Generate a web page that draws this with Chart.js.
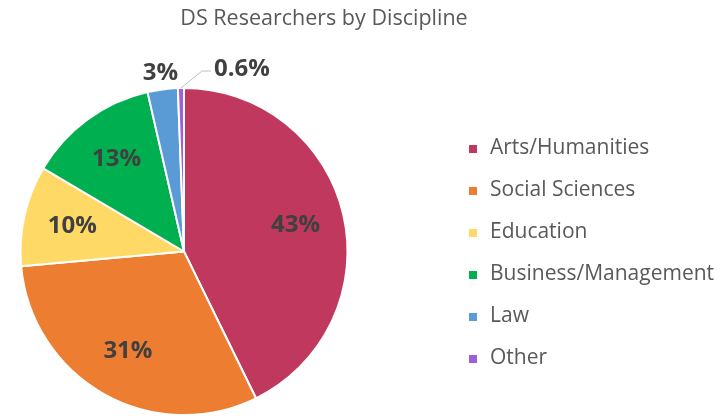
<!DOCTYPE html>
<html>
<head>
<meta charset="utf-8">
<script src="https://cdn.jsdelivr.net/npm/chart.js@4.4.1/dist/chart.umd.min.js"></script>
<style>
  html, body { margin: 0; padding: 0; background: #fff; }
  #wrap { position: relative; width: 721px; height: 418px; font-family: "Open Sans", sans-serif; color: #595959; }
  #pieChart { position: absolute; left: 0; top: 0; }
  #title { position: absolute; left: 124px; width: 400px; top: 2px; text-align: center; font-size: 21.5px; line-height: 30px; white-space: nowrap; }
  #legend { position: absolute; left: 469px; top: 131px; margin: 0; padding: 0; list-style: none; font-size: 21px; }
  #legend li { height: 42px; line-height: 30px; white-space: nowrap; }
  #legend .box { display: inline-block; width: 8px; height: 8px; margin-right: 13px; vertical-align: 1px; }
</style>
</head>
<body>
<div id="wrap">
  <canvas id="pieChart" width="721" height="418"></canvas>
  <div id="title">DS Researchers by Discipline</div>
  <ul id="legend"></ul>
</div>
<script>
const categories = ['Arts/Humanities', 'Social Sciences', 'Education', 'Business/Management', 'Law', 'Other'];
const shares = [43, 31, 10, 13, 3, 0.6];
const shareLabels = ['43%', '31%', '10%', '13%', '3%', '0.6%'];
const sliceColors = ['#C0385E', '#ED7D31', '#FFD966', '#00B050', '#5B9BD5', '#A05FDA'];

const FONT = '"Open Sans", sans-serif';

// percentage labels, small slices go outside the pie
const sliceLabels = {
    id: 'sliceLabels',
    afterDatasetsDraw: function(chart) {
        const ctx = chart.ctx;
        const meta = chart.getDatasetMeta(0);
        ctx.save();
        ctx.font = 'bold 24px ' + FONT;
        ctx.fillStyle = '#404040';
        ctx.textBaseline = 'middle';

        meta.data.forEach(function(arc, i) {
            const mid = (arc.startAngle + arc.endAngle) / 2;
            const r = arc.outerRadius;
            const text = shareLabels[i];

            if (shares[i] >= 5) {
                ctx.textAlign = 'center';
                ctx.fillText(text, arc.x + Math.cos(mid) * r * 0.7, arc.y + Math.sin(mid) * r * 0.7);
            } else if (i < meta.data.length - 1) {
                ctx.textAlign = 'center';
                ctx.fillText(text, arc.x + Math.cos(mid) * r * 1.1, arc.y + Math.sin(mid) * r * 1.1);
            } else {
                // last tiny slice gets a leader line
                const sx = arc.x + Math.cos(mid) * r;
                const sy = arc.y + Math.sin(mid) * r;
                const ex = sx + 21, ey = sy - 17;
                ctx.strokeStyle = '#BFBFBF';
                ctx.lineWidth = 1;
                ctx.beginPath();
                ctx.moveTo(sx, sy);
                ctx.lineTo(ex, ey);
                ctx.lineTo(ex + 9, ey);
                ctx.stroke();
                ctx.textAlign = 'left';
                ctx.fillText(text, ex + 12, ey - 2);
            }
        });
        ctx.restore();
    }
};

const chart = new Chart(document.getElementById('pieChart'), {
    type: 'pie',
    data: {
        labels: categories,
        datasets: [{
            data: shares,
            backgroundColor: sliceColors,
            borderColor: '#ffffff',
            borderWidth: 2
        }]
    },
    options: {
        responsive: false,
        animation: false,
        layout: { padding: { left: 0, right: 353, top: 87, bottom: 2 } },
        plugins: {
            legend: { display: false },
            title: { display: false },
            tooltip: { enabled: false }
        }
    },
    plugins: [sliceLabels]
});

// legend built from the chart's own data
const legendEl = document.getElementById('legend');
chart.data.labels.forEach(function(label, i) {
    const li = document.createElement('li');
    const box = document.createElement('span');
    box.className = 'box';
    box.style.background = chart.data.datasets[0].backgroundColor[i];
    li.appendChild(box);
    li.appendChild(document.createTextNode(label));
    legendEl.appendChild(li);
});
</script>
</body>
</html>
